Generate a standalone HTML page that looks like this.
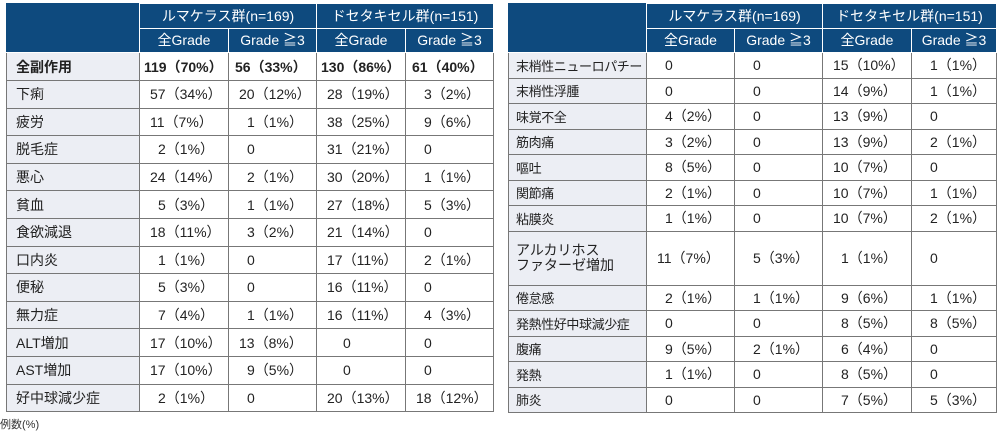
<!DOCTYPE html>
<html><head><meta charset="utf-8"><style>
body{margin:0;width:1001px;height:448px;background:#fff;position:relative;font-family:"Liberation Sans","Noto Sans CJK JP",sans-serif;color:#222;overflow:hidden}
table{position:absolute;top:3px;border-collapse:collapse;table-layout:fixed;font-size:14px}
td{border:1px solid #777;padding:0 0 0 10px;white-space:pre;overflow:hidden}
td.s{padding-left:18px}
tr.h td{background:#0e4a7e;color:#fff;text-align:center;padding:0;border-color:#fff;height:23.5px}
tr.h td.e{border-left-color:#0e4a7e;border-top-color:#0e4a7e}
td.l{background:#eceef4;padding-left:9px}
.r td.l{font-size:13px;letter-spacing:-0.4px;padding-left:7px}
tr.b td{font-weight:bold}
#foot{position:absolute;left:0;top:416px;font-size:11px;color:#333}
</style></head><body>
<table style="left:6px;width:487px">
<colgroup><col style="width:133px"><col style="width:89px"><col style="width:88px"><col style="width:89px"><col style="width:88px"></colgroup>
<tr class="h"><td class="e" rowspan="2"></td><td colspan="2">ルマケラス群(n=169)</td><td colspan="2">ドセタキセル群(n=151)</td></tr>
<tr class="h"><td>全Grade</td><td>Grade ≧3</td><td>全Grade</td><td>Grade ≧3</td></tr>
<tr class="b" style="height:28px"><td class="l">全副作用</td><td style="padding-left:4px">119（70%）</td><td style="padding-left:6px">56（33%）</td><td style="padding-left:4px">130（86%）</td><td style="padding-left:6px">61（40%）</td></tr>
<tr style="height:27.6px"><td class="l">下痢</td><td>57（34%）</td><td>20（12%）</td><td>28（19%）</td><td class="s">3（2%）</td></tr>
<tr style="height:27.6px"><td class="l">疲労</td><td>11（7%）</td><td class="s">1（1%）</td><td>38（25%）</td><td class="s">9（6%）</td></tr>
<tr style="height:27.6px"><td class="l">脱毛症</td><td class="s">2（1%）</td><td class="s">0</td><td>31（21%）</td><td class="s">0</td></tr>
<tr style="height:27.6px"><td class="l">悪心</td><td>24（14%）</td><td class="s">2（1%）</td><td>30（20%）</td><td class="s">1（1%）</td></tr>
<tr style="height:27.6px"><td class="l">貧血</td><td class="s">5（3%）</td><td class="s">1（1%）</td><td>27（18%）</td><td class="s">5（3%）</td></tr>
<tr style="height:27.6px"><td class="l">食欲減退</td><td>18（11%）</td><td class="s">3（2%）</td><td>21（14%）</td><td class="s">0</td></tr>
<tr style="height:27.6px"><td class="l">口内炎</td><td class="s">1（1%）</td><td class="s">0</td><td>17（11%）</td><td class="s">2（1%）</td></tr>
<tr style="height:27.6px"><td class="l">便秘</td><td class="s">5（3%）</td><td class="s">0</td><td>16（11%）</td><td class="s">0</td></tr>
<tr style="height:27.6px"><td class="l">無力症</td><td class="s">7（4%）</td><td class="s">1（1%）</td><td>16（11%）</td><td class="s">4（3%）</td></tr>
<tr style="height:27.6px"><td class="l">ALT増加</td><td>17（10%）</td><td>13（8%）</td><td style="padding-left:26px">0</td><td class="s">0</td></tr>
<tr style="height:27.6px"><td class="l">AST増加</td><td>17（10%）</td><td class="s">9（5%）</td><td style="padding-left:26px">0</td><td class="s">0</td></tr>
<tr style="height:27.6px"><td class="l">好中球減少症</td><td class="s">2（1%）</td><td class="s">0</td><td>20（13%）</td><td>18（12%）</td></tr>
</table>
<table class="r" style="left:508px;width:488px">
<colgroup><col style="width:138px"><col style="width:88px"><col style="width:88px"><col style="width:89px"><col style="width:85px"></colgroup>
<tr class="h"><td class="e" rowspan="2"></td><td colspan="2">ルマケラス群(n=169)</td><td colspan="2">ドセタキセル群(n=151)</td></tr>
<tr class="h"><td>全Grade</td><td>Grade ≧3</td><td>全Grade</td><td>Grade ≧3</td></tr>
<tr style="height:25.5px"><td class="l">末梢性ニューロパチー</td><td class="s">0</td><td class="s">0</td><td>15（10%）</td><td class="s">1（1%）</td></tr>
<tr style="height:25.5px"><td class="l">末梢性浮腫</td><td class="s">0</td><td class="s">0</td><td>14（9%）</td><td class="s">1（1%）</td></tr>
<tr style="height:25.5px"><td class="l">味覚不全</td><td class="s">4（2%）</td><td class="s">0</td><td>13（9%）</td><td class="s">0</td></tr>
<tr style="height:25.5px"><td class="l">筋肉痛</td><td class="s">3（2%）</td><td class="s">0</td><td>13（9%）</td><td class="s">2（1%）</td></tr>
<tr style="height:25.5px"><td class="l">嘔吐</td><td class="s">8（5%）</td><td class="s">0</td><td>10（7%）</td><td class="s">0</td></tr>
<tr style="height:25.5px"><td class="l">関節痛</td><td class="s">2（1%）</td><td class="s">0</td><td>10（7%）</td><td class="s">1（1%）</td></tr>
<tr style="height:25.5px"><td class="l">粘膜炎</td><td class="s">1（1%）</td><td class="s">0</td><td>10（7%）</td><td class="s">2（1%）</td></tr>
<tr style="height:54px"><td class="l" style="line-height:15px;font-size:14px;letter-spacing:0">アルカリホス
ファターゼ増加</td><td>11（7%）</td><td class="s">5（3%）</td><td class="s">1（1%）</td><td class="s">0</td></tr>
<tr style="height:25.5px"><td class="l">倦怠感</td><td class="s">2（1%）</td><td class="s">1（1%）</td><td class="s">9（6%）</td><td class="s">1（1%）</td></tr>
<tr style="height:25.5px"><td class="l">発熱性好中球減少症</td><td class="s">0</td><td class="s">0</td><td class="s">8（5%）</td><td class="s">8（5%）</td></tr>
<tr style="height:25.5px"><td class="l">腹痛</td><td class="s">9（5%）</td><td class="s">2（1%）</td><td class="s">6（4%）</td><td class="s">0</td></tr>
<tr style="height:25.5px"><td class="l">発熱</td><td class="s">1（1%）</td><td class="s">0</td><td class="s">8（5%）</td><td class="s">0</td></tr>
<tr style="height:25.5px"><td class="l">肺炎</td><td class="s">0</td><td class="s">0</td><td class="s">7（5%）</td><td class="s">5（3%）</td></tr>
</table>
<div id="foot">例数(%)</div>
</body></html>
